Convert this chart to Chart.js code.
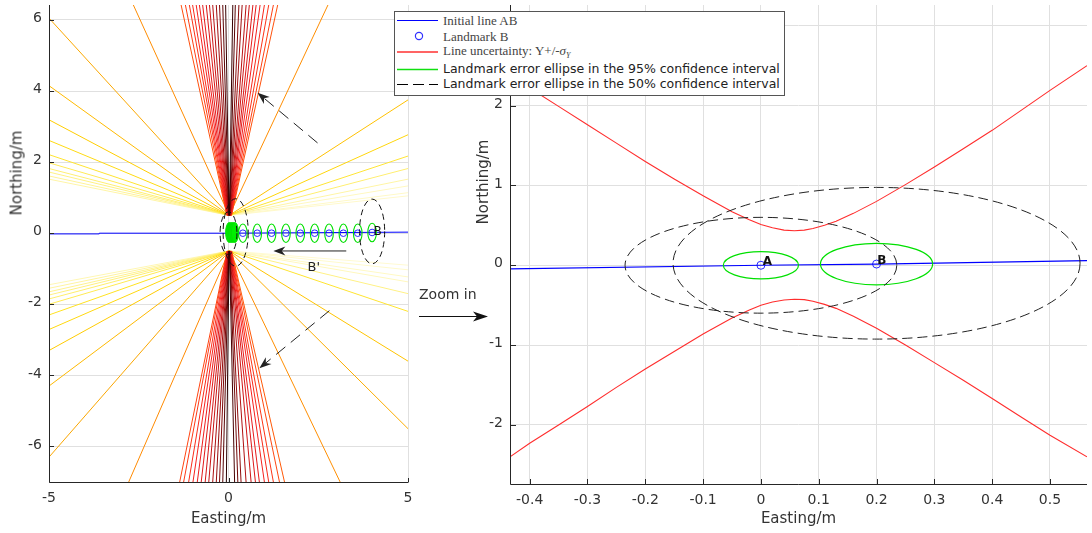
<!DOCTYPE html>
<html>
<head>
<meta charset="utf-8">
<title>Line uncertainty and landmark error ellipses</title>
<script src="https://cdn.jsdelivr.net/npm/chart.js@4.4.1/dist/chart.umd.min.js"></script>
<style>
  html, body { margin:0; padding:0; background:#fff; }
  body { width:1092px; height:533px; position:relative; overflow:hidden; font-family:"DejaVu Sans", sans-serif; }
  canvas { position:absolute; top:0; }
  #leftCanvas { left:0; }
  #rightCanvas { left:440px; }
  .ytitle { position:absolute; font-size:15px; color:#333; white-space:nowrap; line-height:1; transform:translate(-50%,-50%) rotate(-90deg); }
  #legend { position:absolute; left:394px; top:11px; width:391px; height:85px; box-sizing:border-box; border:1px solid #555; background:#fff; }
  #legend svg { position:absolute; left:0; top:0; }
  .lt { position:absolute; left:48px; white-space:nowrap; line-height:1; transform:translateY(-50%); }
  .serif { font-family:"Liberation Serif", serif; font-size:13px; color:#444; }
  .sans { font-family:"DejaVu Sans", sans-serif; font-size:12.5px; color:#222; }
  #zoomText { position:absolute; left:419px; top:294px; transform:translateY(-50%); font-size:14px; color:#333; line-height:1; white-space:nowrap; }
  #zoomArrow { position:absolute; left:410px; top:306px; }
</style>
</head>
<body>
<canvas id="leftCanvas" width="420" height="533"></canvas>
<canvas id="rightCanvas" width="652" height="533"></canvas>
<div class="ytitle" style="left:16.5px;top:173px">Northing/m</div>
<div class="ytitle" style="left:483px;top:182px">Northing/m</div>
<div id="zoomText">Zoom in</div>
<svg id="zoomArrow" width="90" height="20">
  <line x1="9" y1="10.5" x2="70" y2="10.5" stroke="#111" stroke-width="1.2"/>
  <path d="M78,10.5 L63,5.5 L67,10.5 L63,15.5 Z" fill="#111"/>
</svg>
<div id="legend">
  <svg width="50" height="84">
    <line x1="2" y1="8.5" x2="43" y2="8.5" stroke="#0000ff" stroke-width="1"/>
    <circle cx="24" cy="24" r="3.6" fill="none" stroke="#3030ff" stroke-width="1.2"/>
    <line x1="2" y1="40" x2="43" y2="40" stroke="#ff6464" stroke-width="2"/>
    <line x1="2" y1="57.5" x2="43" y2="57.5" stroke="#10e010" stroke-width="1.4"/>
    <line x1="2" y1="72.5" x2="43" y2="72.5" stroke="#000" stroke-width="1" stroke-dasharray="11,5"/>
  </svg>
  <span class="lt serif" style="top:8.3px">Initial line AB</span>
  <span class="lt serif" style="top:24px">Landmark B</span>
  <span class="lt serif" style="top:39.7px">Line uncertainty: Y+/-<i>σ</i><sub style="font-size:8px"><i>Y</i></sub></span>
  <span class="lt sans" style="top:57.3px">Landmark error ellipse in the 95% confidence interval</span>
  <span class="lt sans" style="top:72.3px">Landmark error ellipse in the 50% confidence interval</span>
</div>
<script>
// ====================== DATA ======================
// Left panel axes
const leftXRange = [-5, 5];
const leftYRange = [-7, 6.42];
const leftXTicks = [-5, 0, 5];
const leftYTicks = [-6, -4, -2, 0, 2, 4, 6];

// Right panel axes (zoomed)
const rightXRange = [-0.434, 0.564];
const rightYRange = [-2.74, 3.26];
const rightXTicks = [-0.4, -0.3, -0.2, -0.1, 0, 0.1, 0.2, 0.3, 0.4, 0.5];
const rightYTicks = [-2, -1, 0, 1, 2, 3];

// Left panel: initial line AB
const leftLineX = [-5, -3.6, -3.6, 0, 5];
const leftLineY = [-0.02, -0.02, 0, 0, 0.03];
// Left panel: landmark B positions
const leftLandmarkX = [0.4, 0.8, 1.2, 1.6, 2.0, 2.4, 2.8, 3.2, 3.6, 4.0];
const leftLandmarkY = [0, 0, 0, 0, 0, 0, 0, 0, 0, 0.02];
// Left panel: 95% ellipses [centre x, centre y, semi-axis x, semi-axis y]
const leftEllipse95 = [
  [0.4, 0, 0.12, 0.26], [0.8, 0, 0.12, 0.26], [1.2, 0, 0.12, 0.26], [1.6, 0, 0.12, 0.26],
  [2.0, 0, 0.12, 0.26], [2.4, 0, 0.12, 0.26], [2.8, 0, 0.12, 0.26], [3.2, 0, 0.12, 0.26],
  [3.6, 0, 0.12, 0.26], [4.0, 0.02, 0.12, 0.26]
];
// cluster of 95% ellipses close to A (appears as a solid blob)
const leftEllipse95Cluster = [
  [0.02, 0.02, 0.1, 0.28], [0.06, 0.02, 0.1, 0.28], [0.1, 0.02, 0.1, 0.28],
  [0.14, 0.02, 0.1, 0.28], [0.18, 0.02, 0.1, 0.28]
];
// Left panel: 50% ellipses
const leftEllipse50 = [[0, 0, 0.235, 0.6], [0.2, 0.02, 0.35, 0.95], [4.0, 0.05, 0.35, 0.91]];

// Left panel: line-uncertainty fans
const fanVertexUpper = [0.02, 0.5];     // waist of the band (shallow rays start here)
const fanVertexLower = [0.02, -0.5];
const steepFocusUpper = [0.02, 0.2];    // where the steep asymptotes meet
const steepFocusLower = [0.02, -0.2];
const upperLeftEdgeY = [6.05, 4.15, 3.19, 2.61, 2.21, 1.98, 1.82, 1.72, 1.61, 1.52];   // hits x = -5
const upperRightEdgeY = [3.75, 2.77, 2.17, 1.82, 1.52, 1.33, 1.14, 1.05];              // hits x = 5
const upperTopX = [-2.65, -1.32, -1.20, -1.09, -1.0, -0.9, -0.81, -0.72, -0.62, -0.53, -0.44,
  -0.34, -0.25, -0.16, -0.08, 0.12, 0.19, 0.29, 0.38, 0.49, 0.58, 0.68, 0.77, 0.88, 1.0,
  1.12, 1.25, 1.37, 2.77];                                                              // hits top edge
const lowerLeftEdgeY = [-6.3, -4.3, -3.3, -2.71, -2.3, -2.0, -1.85, -1.74, -1.65, -1.55, -1.45];
const lowerRightEdgeY = [-5.5, -3.6, -2.2, -1.7, -1.37, -1.23, -1.03, -0.9];
const lowerBottomX = [-2.78, -1.36, -1.25, -1.11, -0.99, -0.87, -0.76, -0.65, -0.55, -0.44,
  -0.34, -0.25, -0.16, -0.06, 0.17, 0.26, 0.35, 0.49, 0.63, 0.75, 0.86, 1.0, 1.12, 1.25,
  1.42, 1.56, 3.11];                                                                    // hits bottom edge

// Left panel annotations [x0, y0, x1(head), y1(head)]
const leftArrowsDashed = [[2.48, 2.54, 0.81, 3.95], [2.81, -2.18, 0.86, -3.8]];
const leftArrowsSolid = [[3.28, -0.5, 1.25, -0.5]];
const leftLabels = [["B", 4.04, 0.03], ["B'", 2.2, -0.98]];

// Right panel: initial line AB and landmarks
const rightLineX = [-0.434, 0, 0.2, 0.564];
const rightLineY = [-0.046, 0, 0.015, 0.058];
const rightLandmarkX = [0, 0.2];
const rightLandmarkY = [0, 0.015];
const rightEllipse95 = [[0, 0, 0.065, 0.17], [0.2, 0.015, 0.097, 0.26]];
const rightEllipse50 = [[0, 0, 0.235, 0.6], [0.2, 0.025, 0.352, 0.95]];
// Right panel: line uncertainty Y +/- sigma_Y
const redX = [-0.434, -0.4, -0.35, -0.3, -0.25, -0.2, -0.15, -0.1, -0.05, -0.02, 0.0, 0.02, 0.04, 0.058,
  0.075, 0.09, 0.11, 0.13, 0.16, 0.2, 0.25, 0.3, 0.35, 0.4, 0.45, 0.5, 0.564];
const redUpperY = [2.38, 2.22, 1.99, 1.76, 1.53, 1.30, 1.08, 0.87, 0.67, 0.57, 0.51, 0.47, 0.44, 0.433,
  0.44, 0.46, 0.50, 0.55, 0.65, 0.80, 1.01, 1.23, 1.46, 1.69, 1.94, 2.19, 2.50];
const redLowerY = [-2.40, -2.23, -2.00, -1.77, -1.53, -1.30, -1.08, -0.86, -0.66, -0.56, -0.50, -0.46, -0.435, -0.425,
  -0.43, -0.45, -0.49, -0.54, -0.64, -0.79, -1.00, -1.22, -1.44, -1.67, -1.90, -2.13, -2.40];
const rightLabels = [["A", 0.003, 0.04], ["B", 0.201, 0.05]];

// ====================== STYLE ======================
const FONT = '"DejaVu Sans", sans-serif';
const TXT = '#333';
const GRID = '#e0e0e0';
const AXIS = '#262626';
// colour by steepness of the ray (degrees from horizontal): pale yellow -> orange -> red -> black
const hotStops = [[0,[255,252,225]],[10,[255,248,190]],[15,[255,238,110]],[20,[255,225,30]],[27,[255,208,0]],
  [35,[255,188,0]],[50,[250,165,0]],[66,[255,140,0]],[76,[255,110,0]],[79,[255,60,20]],[82,[245,30,30]],
  [85,[205,20,20]],[87.5,[135,10,10]],[89,[60,0,0]],[90,[0,0,0]]];
function hotColor(deg) {
  for (let i = 1; i < hotStops.length; i++) {
    if (deg <= hotStops[i][0]) {
      const [a0, c0] = hotStops[i - 1], [a1, c1] = hotStops[i];
      const t = (deg - a0) / (a1 - a0);
      return 'rgb(' + c0.map((c, k) => Math.round(c + (c1[k] - c) * t)).join(',') + ')';
    }
  }
  return 'rgb(0,0,0)';
}

const pts = (xs, ys) => xs.map((x, i) => ({x, y: ys[i]}));
const angleOf = (a, b) => Math.atan2(Math.abs(b[1] - a[1]), Math.abs(b[0] - a[0])) * 180 / Math.PI;

// ---------- rays ----------
function makeRay(vertex, focus, e) {
  let deg = angleOf(vertex, e);
  let s = vertex;
  if (deg > 70) {
    const t = (vertex[1] - focus[1]) / (e[1] - focus[1]);
    s = [focus[0] + (e[0] - focus[0]) * t, vertex[1]];
    deg = angleOf(focus, e);
  }
  return {s, e, deg};
}
const upperEnds = [
  ...upperLeftEdgeY.map(y => [leftXRange[0], y]),
  ...upperRightEdgeY.map(y => [leftXRange[1], y]),
  ...upperTopX.map(x => [x, leftYRange[1]])
];
const lowerEnds = [
  ...lowerLeftEdgeY.map(y => [leftXRange[0], y]),
  ...lowerRightEdgeY.map(y => [leftXRange[1], y]),
  ...lowerBottomX.map(x => [x, leftYRange[0]])
];
const rayList = [
  ...upperEnds.map(e => makeRay(fanVertexUpper, steepFocusUpper, e)),
  ...lowerEnds.map(e => makeRay(fanVertexLower, steepFocusLower, e))
].sort((a, b) => b.deg - a.deg);
const rayDatasets = rayList.map(r => ({
  data: [{x: r.s[0], y: r.s[1]}, {x: r.e[0], y: r.e[1]}],
  showLine: true, borderColor: hotColor(r.deg), borderWidth: 1, pointRadius: 0, pointHoverRadius: 0
}));

// ---------- axes ----------
function xAxis(range, ticks, h) {
  return {
    type: 'linear', position: 'bottom', min: range[0], max: range[1],
    afterBuildTicks: s => { s.ticks = ticks.map(v => ({value: v})); },
    afterFit: s => { s.height = h; s.paddingLeft = 0; s.paddingRight = 0; },
    grid: {color: GRID, lineWidth: 1, drawTicks: false},
    border: {display: false},
    ticks: {color: TXT, font: {family: FONT, size: 14}, padding: 8, maxRotation: 0, autoSkip: false, callback: v => String(v)},
    title: {display: true, text: 'Easting/m', color: TXT, font: {family: FONT, size: 15}, padding: {top: 0, bottom: 5}}
  };
}
function yAxis(range, ticks, w) {
  return {
    type: 'linear', position: 'left', min: range[0], max: range[1],
    afterBuildTicks: s => { s.ticks = ticks.map(v => ({value: v})); },
    afterFit: s => { s.width = w; s.paddingTop = 0; s.paddingBottom = 0; },
    grid: {color: GRID, lineWidth: 1, drawTicks: false},
    border: {display: false},
    ticks: {color: TXT, font: {family: FONT, size: 14}, padding: 7, labelOffset: -1.5, autoSkip: false, callback: v => String(v)},
    title: {display: false}
  };
}

// ---------- plugins ----------
function axesFrame(id, len) {
  return { id, afterDatasetsDraw(chart) {
    const {ctx, chartArea: a, scales: {x, y}} = chart;
    ctx.save();
    ctx.strokeStyle = AXIS; ctx.lineWidth = 1; ctx.setLineDash([]);
    ctx.beginPath();
    const L = Math.round(a.left) + 0.5, B = Math.round(a.bottom) + 0.5;
    ctx.moveTo(L, a.top); ctx.lineTo(L, B); ctx.lineTo(a.right, B);
    x.ticks.forEach(t => { const p = Math.round(x.getPixelForValue(t.value)) + 0.5; ctx.moveTo(p, B); ctx.lineTo(p, B - len); });
    y.ticks.forEach(t => { const p = Math.round(y.getPixelForValue(t.value)) + 0.5; ctx.moveTo(L, p); ctx.lineTo(L + len, p); });
    ctx.stroke();
    ctx.restore();
  }};
}
function ellipseLayer(id, groups) {
  return { id, afterDatasetsDraw(chart) {
    const {ctx, chartArea: a, scales: {x, y}} = chart;
    ctx.save();
    ctx.beginPath(); ctx.rect(a.left, a.top, a.right - a.left, a.bottom - a.top); ctx.clip();
    for (const g of groups) {
      for (const [cx, cy, rx, ry] of g.list) {
        const px = x.getPixelForValue(cx), py = y.getPixelForValue(cy);
        const prx = Math.abs(x.getPixelForValue(cx + rx) - px);
        const pry = Math.abs(y.getPixelForValue(cy + ry) - py);
        ctx.beginPath(); ctx.ellipse(px, py, prx, pry, 0, 0, Math.PI * 2);
        if (g.fill) { ctx.fillStyle = g.fill; ctx.fill(); }
        if (g.stroke) { ctx.setLineDash(g.dash || []); ctx.lineWidth = g.width || 1; ctx.strokeStyle = g.stroke; ctx.stroke(); }
      }
    }
    ctx.restore();
  }};
}
function arrowLayer(id, groups) {
  return { id, afterDatasetsDraw(chart) {
    const {ctx, scales: {x, y}} = chart;
    ctx.save();
    for (const g of groups) {
      for (const [x0, y0, x1, y1] of g.list) {
        const p0 = [x.getPixelForValue(x0), y.getPixelForValue(y0)];
        const p1 = [x.getPixelForValue(x1), y.getPixelForValue(y1)];
        const dx = p1[0] - p0[0], dy = p1[1] - p0[1], d = Math.hypot(dx, dy);
        const ux = dx / d, uy = dy / d, nx = -uy, ny = ux;
        const hl = 12, hw = 4.5;
        ctx.strokeStyle = g.color; ctx.lineWidth = 1; ctx.setLineDash(g.dash || []);
        ctx.beginPath(); ctx.moveTo(p0[0], p0[1]); ctx.lineTo(p1[0] - ux * hl * 0.7, p1[1] - uy * hl * 0.7); ctx.stroke();
        ctx.setLineDash([]);
        ctx.fillStyle = g.color;
        ctx.beginPath();
        ctx.moveTo(p1[0], p1[1]);
        ctx.lineTo(p1[0] - ux * hl + nx * hw, p1[1] - uy * hl + ny * hw);
        ctx.lineTo(p1[0] - ux * hl * 0.7, p1[1] - uy * hl * 0.7);
        ctx.lineTo(p1[0] - ux * hl - nx * hw, p1[1] - uy * hl - ny * hw);
        ctx.closePath(); ctx.fill();
      }
    }
    ctx.restore();
  }};
}
function labelLayer(id, list, font, color) {
  return { id, afterDatasetsDraw(chart) {
    const {ctx, scales: {x, y}} = chart;
    ctx.save();
    ctx.font = font; ctx.fillStyle = color; ctx.textAlign = 'left'; ctx.textBaseline = 'middle';
    for (const [t, lx, ly] of list) ctx.fillText(t, x.getPixelForValue(lx), y.getPixelForValue(ly));
    ctx.restore();
  }};
}

const common = {
  responsive: false, animation: false, events: [],
  plugins: {legend: {display: false}, tooltip: {enabled: false}}
};

// ---------- left chart ----------
new Chart(document.getElementById('leftCanvas'), {
  type: 'scatter',
  data: { datasets: [
    {data: pts(leftLineX, leftLineY), showLine: true, borderColor: '#0000ff', borderWidth: 1, pointRadius: 0},
    {data: pts(leftLandmarkX, leftLandmarkY), showLine: false, pointRadius: 3.3, pointBorderColor: '#2828ff',
      pointBackgroundColor: 'rgba(0,0,0,0)', pointBorderWidth: 1},
    ...rayDatasets
  ]},
  options: Object.assign({}, common, {
    layout: {padding: {left: 0, right: 12, top: 1, bottom: 0}},
    scales: {x: xAxis(leftXRange, leftXTicks, 51), y: yAxis(leftYRange, leftYTicks, 49)}
  }),
  plugins: [
    ellipseLayer('leftEllipses', [
      {list: leftEllipse95Cluster, fill: '#00ee00', stroke: '#00e000', width: 1},
      {list: leftEllipse95, stroke: '#00e000', width: 1.1},
      {list: leftEllipse50, stroke: '#111', width: 1, dash: [6, 4]}
    ]),
    arrowLayer('leftArrows', [
      {list: leftArrowsDashed, color: '#222', dash: [12, 7]},
      {list: leftArrowsSolid, color: '#222'}
    ]),
    labelLayer('leftLabelsA', leftLabels.slice(0, 1), '12px "DejaVu Sans"', '#111'),
    labelLayer('leftLabelsB', leftLabels.slice(1), '13px "DejaVu Sans"', '#222'),
    axesFrame('leftFrame', 4.5)
  ]
});

// ---------- right chart ----------
new Chart(document.getElementById('rightCanvas'), {
  type: 'scatter',
  data: { datasets: [
    {data: pts(rightLineX, rightLineY), showLine: true, borderColor: '#0000ff', borderWidth: 1.2, pointRadius: 0},
    {data: pts(rightLandmarkX, rightLandmarkY), showLine: false, pointRadius: 4, pointBorderColor: '#2828ff',
      pointBackgroundColor: 'rgba(0,0,0,0)', pointBorderWidth: 1},
    {data: pts(redX, redUpperY), showLine: true, borderColor: 'rgb(255,45,45)', borderWidth: 1.1, pointRadius: 0},
    {data: pts(redX, redLowerY), showLine: true, borderColor: 'rgb(255,45,45)', borderWidth: 1.1, pointRadius: 0}
  ]},
  options: Object.assign({}, common, {
    layout: {padding: {left: 0, right: 2, top: 2, bottom: 0}},
    scales: {x: xAxis(rightXRange, rightXTicks, 49), y: yAxis(rightYRange, rightYTicks, 70)}
  }),
  plugins: [
    ellipseLayer('rightEllipses', [
      {list: rightEllipse95, stroke: '#00e000', width: 1.2},
      {list: rightEllipse50, stroke: '#222', width: 1, dash: [10, 5]}
    ]),
    labelLayer('rightLabels', rightLabels, 'bold 12px "DejaVu Sans"', '#111'),
    axesFrame('rightFrame', 5.5)
  ]
});
</script>
</body>
</html>
